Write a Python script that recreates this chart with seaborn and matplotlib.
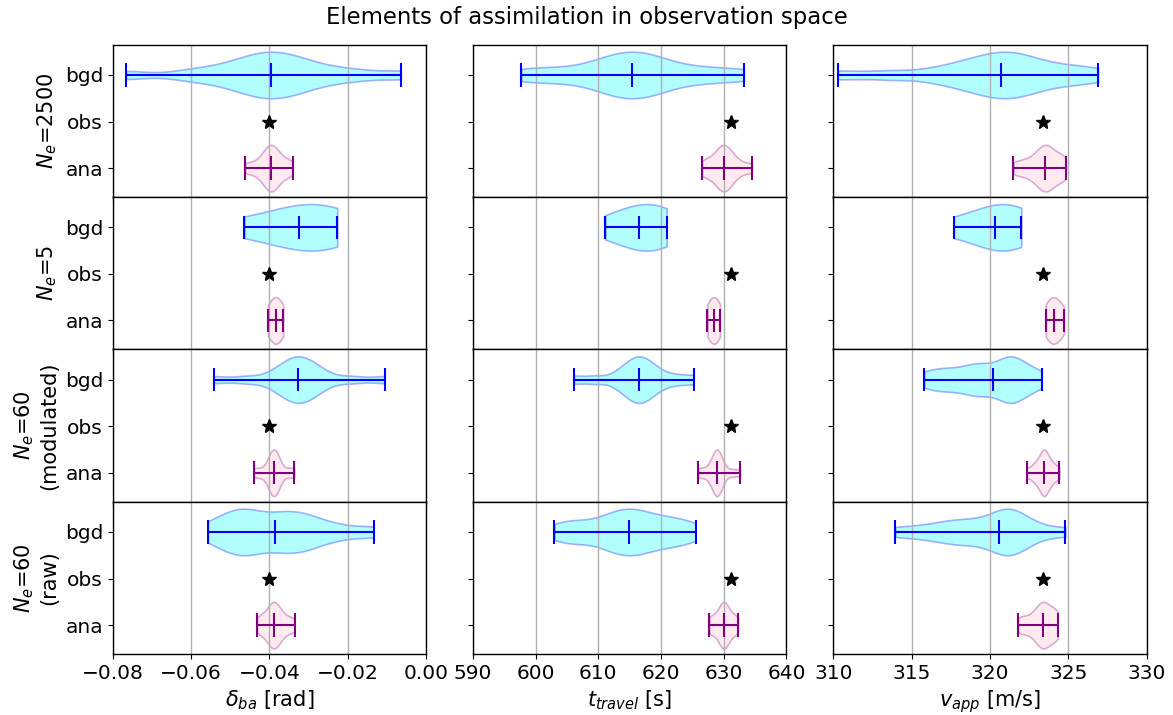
import numpy as np
import pandas as pd
import matplotlib
matplotlib.use("Agg")
import matplotlib.pyplot as plt
import seaborn as sns
from matplotlib.colors import to_rgba

# ---------------- data ----------------
categories = ["bgd", "obs", "ana"]
row_labels = ["$N_e$=2500", "$N_e$=5", "$N_e$=60\n(modulated)", "$N_e$=60\n(raw)"]
x_labels = [r"$\delta_{ba}$ [rad]", r"$t_{travel}$ [s]", r"$v_{app}$ [m/s]"]
x_limits = [(-0.08, 0.0), (590, 640), (310, 330)]
x_ticks = [[-0.08, -0.06, -0.04, -0.02, 0.00],
           [590, 600, 610, 620, 630, 640],
           [310, 315, 320, 325, 330]]
obs_values = [-0.0401, 631.2, 323.4]

# N_e = 2500
bgd_n2500_delta = [-0.0766, -0.0610, -0.0539, -0.0489, -0.0459, -0.0435, -0.0415, -0.0395,
                   -0.0375, -0.0355, -0.0331, -0.0301, -0.0251, -0.0180, -0.0065]
ana_n2500_delta = [-0.0462, -0.0442, -0.0426, -0.0416, -0.0410, -0.0405, -0.0400, -0.0396,
                   -0.0392, -0.0387, -0.0382, -0.0376, -0.0366, -0.0354, -0.0341]
bgd_n2500_time = [597.7, 602.0, 606.1, 609.4, 611.3, 612.8, 614.1, 615.4,
                  616.7, 618.0, 619.5, 621.5, 624.7, 628.5, 633.2]
ana_n2500_time = [626.5, 627.2, 628.0, 628.7, 629.1, 629.4, 629.7, 630.0,
                  630.3, 630.6, 630.9, 631.3, 632.0, 633.0, 634.5]
bgd_n2500_vel = [310.3, 313.5, 316.3, 317.8, 318.75, 319.5, 320.1, 320.7,
                 321.2, 321.6, 322.2, 322.9, 324.1, 325.4, 326.9]
ana_n2500_vel = [321.5, 322.0, 322.4, 322.8, 323.0, 323.2, 323.35, 323.5,
                 323.63, 323.76, 323.91, 324.1, 324.43, 324.65, 324.83]

# N_e = 5
bgd_n5_delta = [-0.0464, -0.0335, -0.0324, -0.0250, -0.0227]
ana_n5_delta = [-0.0404, -0.0393, -0.0384, -0.0376, -0.0365]
bgd_n5_time = [611.1, 615.8, 616.5, 620.0, 620.9]
ana_n5_time = [627.4, 627.9, 628.4, 628.9, 629.4]
bgd_n5_vel = [317.7, 320.0, 320.35, 321.6, 322.0]
ana_n5_vel = [323.56, 323.85, 324.09, 324.3, 324.72]

# N_e = 60 (modulated)
bgd_mod_delta = [-0.0542, -0.0460, -0.0394, -0.0370, -0.0356, -0.0345, -0.0335, -0.0326,
                 -0.0317, -0.0307, -0.0296, -0.0282, -0.0258, -0.0190, -0.0106]
ana_mod_delta = [-0.0440, -0.0424, -0.0409, -0.0402, -0.0398, -0.0395, -0.0392, -0.0389,
                 -0.0386, -0.0383, -0.0380, -0.0376, -0.0369, -0.0352, -0.0337]
bgd_mod_time = [606.1, 609.5, 612.8, 614.1, 614.85, 615.5, 616.0, 616.5,
                617.0, 617.5, 618.15, 618.9, 620.2, 622.5, 625.2]
ana_mod_time = [625.9, 626.8, 627.7, 628.1, 628.4, 628.6, 628.75, 628.9,
                629.05, 629.2, 629.4, 629.7, 630.1, 631.3, 632.6]
bgd_mod_vel = [315.8, 316.6, 317.3, 318.0, 318.7, 319.2, 319.5, 320.2,
               320.8, 321.1, 321.3, 321.6, 322.0, 322.5, 323.3]
ana_mod_vel = [322.35, 322.7, 322.9, 323.05, 323.2, 323.3, 323.38, 323.42,
               323.5, 323.6, 323.68, 323.8, 323.95, 324.15, 324.43]

# N_e = 60 (raw)
bgd_raw_delta = [-0.0557, -0.0520, -0.0495, -0.0478, -0.0462, -0.0445, -0.0420, -0.0386,
                 -0.0365, -0.0345, -0.0322, -0.0300, -0.0270, -0.0215, -0.0134]
ana_raw_delta = [-0.0432, -0.0422, -0.0413, -0.0405, -0.0399, -0.0395, -0.0392, -0.0388,
                 -0.0384, -0.0380, -0.0375, -0.0369, -0.0360, -0.0348, -0.0336]
bgd_raw_time = [603.0, 605.5, 607.3, 610.0, 611.5, 612.8, 613.9, 614.9,
                615.9, 617.0, 618.3, 619.9, 621.5, 623.3, 625.5]
ana_raw_time = [627.7, 628.1, 628.65, 629.1, 629.4, 629.6, 629.8, 630.0,
                630.2, 630.4, 630.6, 630.9, 631.35, 631.8, 632.3]
bgd_raw_vel = [313.96, 315.6, 316.8, 317.6, 318.3, 319.0, 319.8, 320.56,
               320.9, 321.1, 321.3, 321.6, 322.1, 323.0, 324.81]
ana_raw_vel = [321.8, 322.1, 322.43, 322.76, 322.95, 323.1, 323.23, 323.36,
               323.46, 323.57, 323.7, 323.86, 324.12, 324.22, 324.32]

bgd_grid = [[bgd_n2500_delta, bgd_n2500_time, bgd_n2500_vel],
            [bgd_n5_delta, bgd_n5_time, bgd_n5_vel],
            [bgd_mod_delta, bgd_mod_time, bgd_mod_vel],
            [bgd_raw_delta, bgd_raw_time, bgd_raw_vel]]
ana_grid = [[ana_n2500_delta, ana_n2500_time, ana_n2500_vel],
            [ana_n5_delta, ana_n5_time, ana_n5_vel],
            [ana_mod_delta, ana_mod_time, ana_mod_vel],
            [ana_raw_delta, ana_raw_time, ana_raw_vel]]

# ---------------- style ----------------
plt.rcParams["font.family"] = ["DejaVu Sans"]
plt.rcParams["font.size"] = 14.5
plt.rcParams["axes.linewidth"] = 1.0

face = {"bgd": "cyan", "ana": "pink"}
edge = {"bgd": "blue", "ana": "purple"}
bw_bgd = [0.55, 1.3, 0.55, 0.6]
bw_ana = [0.7, 1.3, 0.6, 0.7]

fig, axes = plt.subplots(4, 3, figsize=(11.73, 7.15), dpi=100)
fig.subplots_adjust(left=0.0961, right=0.9776, top=0.9375, bottom=0.0853,
                    hspace=0.0, wspace=0.149)

for r in range(4):
    for c in range(3):
        ax = axes[r, c]
        bgd = bgd_grid[r][c]
        ana = ana_grid[r][c]
        for kind, vals, bw in (("bgd", bgd, bw_bgd[r]), ("ana", ana, bw_ana[r])):
            df = pd.DataFrame({"value": list(vals), "kind": [kind] * len(vals)})
            sns.violinplot(data=df, x="value", y="kind", order=categories,
                           hue="kind", hue_order=["bgd", "ana"], palette=face,
                           cut=0, inner=None, width=1.0, density_norm="width",
                           bw_adjust=bw, linewidth=1.2, legend=False,
                           orient="h", ax=ax)
        for coll in ax.collections:
            verts = np.concatenate([p.vertices for p in coll.get_paths()])
            kind = "bgd" if verts[:, 1].mean() < 1 else "ana"
            coll.set_facecolor(to_rgba(face[kind], 0.3))
            coll.set_edgecolor(to_rgba(edge[kind], 0.3))
            coll.set_linewidth(1.2)
        for kind, vals, pos in (("bgd", bgd, 0), ("ana", ana, 2)):
            lo, med, hi = np.min(vals), np.median(vals), np.max(vals)
            ax.hlines(pos, lo, hi, color=edge[kind], lw=1.5, zorder=3)
            ax.vlines([lo, med, hi], pos - 0.25, pos + 0.25, color=edge[kind],
                      lw=1.5, zorder=3)
        ax.plot([obs_values[c]], [1], marker="*", color="black", ms=10,
                ls="none", zorder=4)

        ax.set_xlim(*x_limits[c])
        ax.set_xticks(x_ticks[c])
        ax.set_ylim(2.62, -0.65)
        ax.set_yticks([0, 1, 2])
        ax.grid(axis="x", color="#b0b0b0", lw=1.0)
        ax.grid(axis="y", visible=False)
        ax.tick_params(labelsize=14.5)
        if c == 0:
            ax.set_yticklabels(categories)
            ax.set_ylabel(row_labels[r], fontsize=15)
        else:
            ax.tick_params(labelleft=False)
            ax.set_ylabel("")
        if r == 3:
            ax.set_xlabel(x_labels[c], fontsize=15)
        else:
            ax.tick_params(labelbottom=False)
            ax.set_xlabel("")

fig.suptitle("Elements of assimilation in observation space", fontsize=16.4, y=0.975,
             va="center")
fig.savefig("out.png", dpi=100)
